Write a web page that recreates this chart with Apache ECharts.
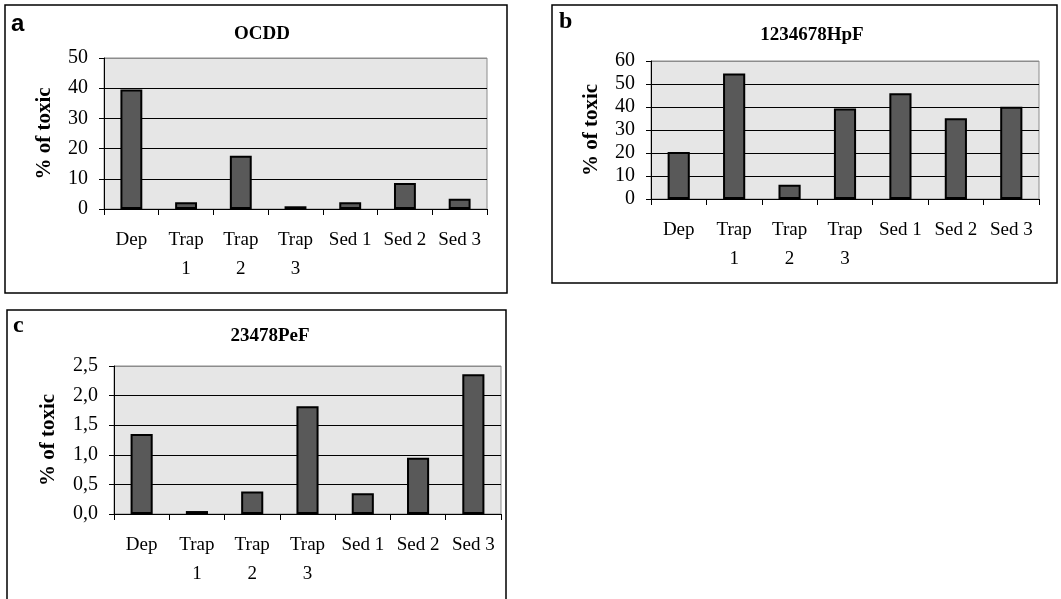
<!DOCTYPE html>
<html>
<head>
<meta charset="utf-8">
<script src="https://cdn.jsdelivr.net/npm/echarts@6/dist/echarts.min.js"></script>
<style>
html,body{margin:0;padding:0;background:#fff;}
#chart{width:1061px;height:599px;}
</style>
</head>
<body>
<div id="chart"></div>
<script>
const categories = ['Dep', 'Trap\n1', 'Trap\n2', 'Trap\n3', 'Sed 1', 'Sed 2', 'Sed 3'];
const titles = ['OCDD', '1234678HpF', '23478PeF'];
const panelLetters = ['a', 'b', 'c'];
const yAxisName = '% of toxic';
const ocddValues = [39.6, 2.2, 17.6, 0.9, 2.2, 8.6, 3.4];
const hpfValues = [20.4, 54.6, 6.2, 39.3, 46.0, 35.1, 40.1];
const pefValues = [1.35, 0.05, 0.38, 1.82, 0.35, 0.95, 2.36];
const yMax = [50, 60, 2.5];
const yInterval = [10, 10, 0.5];

const serif = 'Liberation Serif';
const grids = [
  {left: 104, top: 58, width: 383, height: 151},
  {left: 651, top: 61, width: 388, height: 138},
  {left: 114, top: 366, width: 387, height: 148}
];
const datasets = [ocddValues, hpfValues, pefValues];

function splitColors(i) {
  const n = Math.round(yMax[i] / yInterval[i]) + 1;
  const arr = [];
  for (let k = 0; k < n; k++) arr.push(k === n - 1 ? '#8c8c8c' : '#000');
  return arr;
}

const titleStyle = {fontFamily: serif, fontWeight: 'bold', fontSize: 19, color: '#000'};

const option = {
  backgroundColor: '#fff',
  animation: false,
  title: [
    {text: titles[0], left: 257, top: 20, textAlign: 'center', textStyle: titleStyle},
    {text: titles[1], left: 807, top: 21, textAlign: 'center', textStyle: titleStyle},
    {text: titles[2], left: 265, top: 322, textAlign: 'center', textStyle: titleStyle}
  ],
  grid: grids.map(g => Object.assign({show: true, backgroundColor: '#e6e6e6', borderColor: '#8c8c8c', borderWidth: 1}, g)),
  xAxis: grids.map((g, i) => ({
    type: 'category',
    gridIndex: i,
    data: categories,
    boundaryGap: true,
    axisLine: {show: true, lineStyle: {color: '#000', width: 1}},
    axisTick: {show: true, length: 6, alignWithLabel: false, lineStyle: {color: '#000'}},
    axisLabel: {interval: 0, margin: 17, fontFamily: serif, fontSize: 19, color: '#000', lineHeight: 29},
    splitLine: {show: false}
  })),
  yAxis: grids.map((g, i) => ({
    type: 'value',
    gridIndex: i,
    min: 0,
    max: yMax[i],
    interval: yInterval[i],
    name: yAxisName,
    nameLocation: 'middle',
    nameGap: i === 2 ? 55 : 49,
    nameTextStyle: {fontFamily: serif, fontWeight: 'bold', fontSize: 21, color: '#000'},
    axisLine: {show: true, lineStyle: {color: '#000', width: 1}},
    axisTick: {show: true, length: 5, lineStyle: {color: '#000'}},
    axisLabel: {
      margin: 16, fontFamily: serif, fontSize: 20, color: '#000',
      formatter: i === 2 ? (v => v.toFixed(1).replace('.', ',')) : (v => String(v))
    },
    splitLine: {show: true, lineStyle: {color: splitColors(i), width: 1}}
  })),
  series: datasets.map((d, i) => ({
    type: 'bar',
    xAxisIndex: i,
    yAxisIndex: i,
    data: d,
    barWidth: '40%',
    itemStyle: {color: '#595959', borderColor: '#000', borderWidth: 2}
  })),
  graphic: [
    {type: 'rect', shape: {x: 5, y: 5, width: 502, height: 288}, style: {fill: 'none', stroke: '#000', lineWidth: 1.5}, z: 100},
    {type: 'rect', shape: {x: 552, y: 5, width: 505, height: 278}, style: {fill: 'none', stroke: '#000', lineWidth: 1.5}, z: 100},
    {type: 'rect', shape: {x: 7, y: 310, width: 499, height: 300}, style: {fill: 'none', stroke: '#000', lineWidth: 1.5}, z: 100},
    {type: 'text', left: 11, top: 12, style: {text: panelLetters[0], font: 'bold 24px "Liberation Sans"', fill: '#000'}, z: 100},
    {type: 'text', left: 559, top: 10, style: {text: panelLetters[1], font: 'bold 24px "Liberation Serif"', fill: '#000'}, z: 100},
    {type: 'text', left: 13, top: 314, style: {text: panelLetters[2], font: 'bold 24px "Liberation Serif"', fill: '#000'}, z: 100}
  ]
};

const chart = echarts.init(document.getElementById('chart'), null, {renderer: 'canvas'});
chart.setOption(option);
</script>
</body>
</html>
